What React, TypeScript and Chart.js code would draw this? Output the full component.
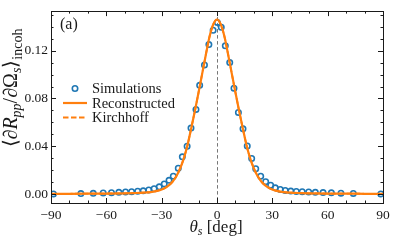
import React, { useEffect, useRef } from "react";
import { Chart, registerables } from "chart.js";
Chart.register(...registerables);

// ---- data ----
const simTheta = [
  -88.7, -73.8, -67.1, -61.7, -57.2, -53.2, -49.6, -46.3, -43.0, -40.0, -37.0, -34.1, -31.3,
  -28.6, -26.0, -23.7, -21.0, -18.8, -16.2, -14.1, -11.4, -9.4, -6.8, -4.4, -2.1, 0.2,
  2.3, 4.5, 6.9, 9.2, 11.6, 14.1, 16.4, 18.8, 21.0, 23.7, 26.4, 29.1, 31.6, 34.3, 37.0,
  40.0, 43.0, 46.2, 49.7, 53.3, 57.5, 62.0, 67.2, 73.9, 88.8,
];
const simValue = [
  0.0003, 0.0006, 0.0008, 0.0011, 0.0013, 0.0016, 0.0019, 0.0022, 0.0025, 0.0029, 0.0036, 0.0046, 0.0062,
  0.0086, 0.0116, 0.0151, 0.0218, 0.0313, 0.0402, 0.0553, 0.0709, 0.091, 0.108, 0.125, 0.137, 0.1435,
  0.1395, 0.124, 0.11, 0.0886, 0.0684, 0.0547, 0.0403, 0.0299, 0.0213, 0.0151, 0.0105, 0.0076, 0.0054, 0.004, 0.0032,
  0.0027, 0.0024, 0.0022, 0.0019, 0.0016, 0.0014, 0.0012, 0.0009, 0.0007, 0.0003,
];
const curveTheta = [
  -90, -80, -70, -60, -50, -45, -40, -36, -33, -30, -28, -26, -24, -22, -20, -18, -16, -14, -12, -10, -8, -6, -4, -2,
  0, 2, 4, 6, 8, 10, 12, 14, 16, 18, 20, 22, 24, 26, 28, 30, 33, 36, 40, 45, 50, 60, 70, 80, 90,
];
const reconValue = [
  0.0003, 0.0004, 0.0005, 0.0006, 0.0008, 0.001, 0.0013, 0.0018, 0.0026, 0.004, 0.0055, 0.0076, 0.0107, 0.0152,
  0.0215, 0.03, 0.041, 0.055, 0.0695, 0.085, 0.101, 0.117, 0.132, 0.142,
  0.146, 0.142, 0.132, 0.117, 0.101, 0.085, 0.0695, 0.055, 0.041, 0.03, 0.0215, 0.0152, 0.0107, 0.0076, 0.0055,
  0.004, 0.0026, 0.0018, 0.0013, 0.001, 0.0008, 0.0006, 0.0005, 0.0004, 0.0003,
];
const kirchhoffValue = [
  0.0003, 0.0004, 0.0005, 0.0006, 0.0008, 0.001, 0.0013, 0.0018, 0.0026, 0.004, 0.0055, 0.0076, 0.0107, 0.0152,
  0.0215, 0.03, 0.041, 0.055, 0.0695, 0.085, 0.101, 0.117, 0.132, 0.142,
  0.146, 0.142, 0.132, 0.117, 0.101, 0.085, 0.0695, 0.055, 0.041, 0.03, 0.0215, 0.0152, 0.0107, 0.0076, 0.0055,
  0.004, 0.0026, 0.0018, 0.0013, 0.001, 0.0008, 0.0006, 0.0005, 0.0004, 0.0003,
];
const xTicks = [-90, -60, -30, 0, 30, 60, 90];
const yTicks = [0, 0.04, 0.08, 0.12];
const legendLabels = ["Simulations", "Reconstructed", "Kirchhoff"];
const panelLabel = "(a)";

const BLUE = "#1f77b4";
const ORANGE = "#ff7f0e";
const INK = "#1a1a1a";
const FONT = "'Liberation Serif', serif";

const decorPlugin = {
  id: "decor",
  beforeDatasetsDraw(chart: any) {
    const { ctx, chartArea: a, scales } = chart;
    const x0 = scales.x.getPixelForValue(0);
    ctx.save();
    ctx.strokeStyle = "#777";
    ctx.lineWidth = 1;
    ctx.setLineDash([3.5, 2.5]);
    ctx.beginPath();
    ctx.moveTo(Math.round(x0) + 0.5, a.top);
    ctx.lineTo(Math.round(x0) + 0.5, a.bottom);
    ctx.stroke();
    ctx.restore();
  },
  afterDraw(chart: any) {
    const { ctx, chartArea: a, scales } = chart;
    const xs = scales.x, ys = scales.y;
    ctx.save();
    ctx.strokeStyle = INK;
    ctx.lineWidth = 1;
    ctx.strokeRect(Math.round(a.left) + 0.5, Math.round(a.top) + 0.5, Math.round(a.right - a.left), Math.round(a.bottom - a.top));
    const tick = (x1: number, y1: number, x2: number, y2: number) => {
      ctx.beginPath();
      ctx.moveTo(x1, y1);
      ctx.lineTo(x2, y2);
      ctx.stroke();
    };
    for (let v = -90; v <= 90; v += 10) {
      const major = xTicks.includes(v);
      const L = major ? 5 : 2.5;
      const px = Math.round(xs.getPixelForValue(v)) + 0.5;
      tick(px, a.bottom, px, a.bottom - L);
      tick(px, a.top, px, a.top + L);
    }
    for (let i = 0; i <= 15; i++) {
      const v = i * 0.01;
      const major = i % 4 === 0;
      const L = major ? 5 : 2.5;
      const py = Math.round(ys.getPixelForValue(v)) + 0.5;
      tick(a.left, py, a.left + L, py);
      tick(a.right, py, a.right - L, py);
    }
    // panel label
    ctx.fillStyle = INK;
    ctx.font = `16px ${FONT}`;
    ctx.textBaseline = "middle";
    ctx.textAlign = "left";
    ctx.fillText(panelLabel, 60, 25);

    // legend
    const rows = [88.5, 103, 117.5];
    const lx1 = 63, lx2 = 87, tx = 92;
    ctx.font = `14.5px ${FONT}`;
    ctx.fillStyle = INK;
    ctx.strokeStyle = BLUE;
    ctx.lineWidth = 1.6;
    ctx.beginPath();
    ctx.arc(75, rows[0], 2.7, 0, Math.PI * 2);
    ctx.stroke();
    ctx.strokeStyle = ORANGE;
    ctx.lineWidth = 2.2;
    ctx.beginPath();
    ctx.moveTo(lx1, rows[1]);
    ctx.lineTo(lx2, rows[1]);
    ctx.stroke();
    ctx.setLineDash([5.5, 2.5]);
    ctx.lineWidth = 1.8;
    ctx.beginPath();
    ctx.moveTo(lx1, rows[2]);
    ctx.lineTo(lx2, rows[2]);
    ctx.stroke();
    ctx.setLineDash([]);
    legendLabels.forEach((t, i) => ctx.fillText(t, tx, rows[i] + 1));

    const drawRun = (parts: { t: string; f: string; dy: number }[], cx: number, cy: number) => {
      let w = 0;
      parts.forEach((p) => { ctx.font = p.f; w += ctx.measureText(p.t).width; });
      let x = cx - w / 2;
      parts.forEach((p) => {
        ctx.font = p.f;
        ctx.fillText(p.t, x, cy + p.dy);
        x += ctx.measureText(p.t).width;
      });
    };
    ctx.textBaseline = "alphabetic";
    ctx.textAlign = "left";
    const big = `17px ${FONT}`, bigI = `italic 17px ${FONT}`;
    const smI = `italic 12px ${FONT}`;
    drawRun([
      { t: "θ", f: bigI, dy: 0 },
      { t: "s", f: smI, dy: 3 },
      { t: " [deg]", f: big, dy: 0 },
    ], 216, 232);

    // y axis title
    const yb = `20px ${FONT}`, ybI = `italic 20px ${FONT}`;
    const ys1 = `14px ${FONT}`, ysI = `italic 14px ${FONT}`;
    ctx.save();
    ctx.translate(17, 88);
    ctx.rotate(-Math.PI / 2);
    drawRun([
      { t: "⟨∂", f: yb, dy: 0 },
      { t: "R", f: ybI, dy: 0 },
      { t: "pp", f: ysI, dy: 3.5 },
      { t: "/∂Ω", f: yb, dy: 0 },
      { t: "s", f: ysI, dy: 3.5 },
      { t: "⟩", f: yb, dy: 0 },
      { t: "incoh", f: ys1, dy: 4.5 },
    ], 0, 0);
    ctx.restore();
    ctx.restore();
  },
};

export default function App() {
  const ref = useRef<HTMLCanvasElement>(null);
  useEffect(() => {
    document.body.style.margin = "0";
    const canvas = ref.current!;
    const curve = (vals: number[]) => curveTheta.map((x, i) => ({ x, y: vals[i] }));
    const chart = new Chart(canvas, {
      type: "scatter",
      data: {
        datasets: [
          {
            label: legendLabels[1],
            data: curve(reconValue),
            showLine: true,
            borderColor: ORANGE,
            borderWidth: 2.2,
            pointRadius: 0,
            cubicInterpolationMode: "monotone",
          } as any,
          {
            label: legendLabels[2],
            data: curve(kirchhoffValue),
            showLine: true,
            borderColor: ORANGE,
            borderWidth: 1.8,
            borderDash: [5.5, 2.5],
            pointRadius: 0,
            cubicInterpolationMode: "monotone",
          } as any,
          {
            label: legendLabels[0],
            data: simTheta.map((x, i) => ({ x, y: simValue[i] })),
            showLine: false,
            pointRadius: 2.7,
            pointBorderWidth: 1.6,
            pointBorderColor: BLUE,
            pointBackgroundColor: "rgba(0,0,0,0)",
            borderColor: BLUE,
            backgroundColor: "rgba(0,0,0,0)",
          } as any,
        ],
      },
      options: {
        animation: false,
        responsive: false,
        layout: { padding: { top: 5, right: 12, left: 0, bottom: 0 } },
        plugins: { legend: { display: false }, tooltip: { enabled: false } },
        scales: {
          x: {
            type: "linear",
            min: -90,
            max: 90,
            grid: { display: false, drawTicks: false },
            border: { display: false },
            afterBuildTicks: (s: any) => { s.ticks = xTicks.map((value) => ({ value })); },
            afterFit: (s: any) => { s.height = 39; },
            ticks: {
              padding: 4,
              color: INK,
              maxRotation: 0,
              font: { family: FONT, size: 13.5 },
              callback: (v: any) => (v < 0 ? "\u2212" + Math.abs(v) : String(v)),
            },
          },
          y: {
            type: "linear",
            min: -0.0073,
            max: 0.153,
            grid: { display: false, drawTicks: false },
            border: { display: false },
            afterBuildTicks: (s: any) => { s.ticks = yTicks.map((value) => ({ value })); },
            afterFit: (s: any) => { s.width = 51; },
            ticks: {
              padding: 3,
              color: INK,
              font: { family: FONT, size: 13.5 },
              callback: (v: any) => Number(v).toFixed(2),
            },
          },
        },
      },
      plugins: [decorPlugin],
    } as any);
    return () => chart.destroy();
  }, []);
  return <canvas ref={ref} width={395} height={242} style={{ display: "block" }} />;
}
